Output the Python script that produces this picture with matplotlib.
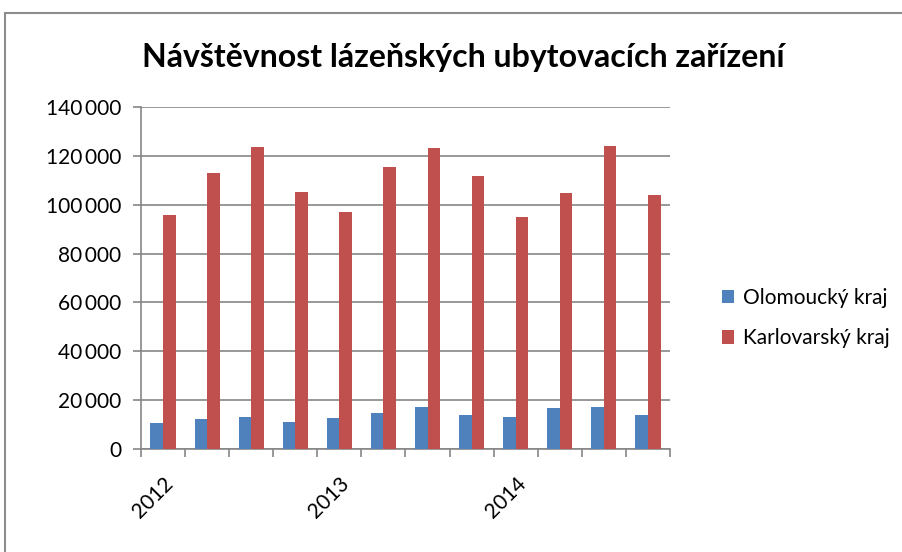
import matplotlib
matplotlib.use("Agg")
import matplotlib.pyplot as plt
from matplotlib.patches import Rectangle
import numpy as np

categories = ["2012", "", "", "", "2013", "", "", "", "2014", "", "", ""]
olomoucky = [10760, 12280, 13240, 11170, 12690, 14760, 17240, 13790, 13240, 16690, 17240, 13790]
karlovarsky = [95800, 112800, 123660, 105290, 96900, 115250, 123100, 111900, 94980, 104750, 124200, 103800]
series_names = ["Olomoucký kraj", "Karlovarský kraj"]
title = "Návštěvnost lázeňských ubytovacích zařízení"
yticks = list(range(0, 140001, 20000))

plt.rcParams['font.family'] = ['Lato', 'DejaVu Sans']

fig = plt.figure(figsize=(9.03, 5.52), dpi=100)
ax = fig.add_axes([141/903, 103/552, 529/903, 342/552])

x = np.arange(len(categories))
w = 1/3.5
ax.bar(x - w/2, olomoucky, width=w, color="#4F81BD", label=series_names[0], zorder=3)
ax.bar(x + w/2, karlovarsky, width=w, color="#C0504D", label=series_names[1], zorder=3)

ax.set_xlim(-0.5, len(categories) - 0.5)
ax.set_ylim(0, 140000)
ax.set_yticks(yticks)
ax.set_yticklabels([f"{v:,}".replace(",", "\u2009") for v in yticks], fontsize=15)
ax.yaxis.grid(True, color="#868686", linewidth=1.2, zorder=0)
ax.set_axisbelow(True)

ax.set_xticks(np.arange(-0.5, len(categories)), minor=False)
ax.set_xticklabels([])
ax.tick_params(axis='x', length=6, color="#868686", width=1.2)
ax.tick_params(axis='y', length=6, color="#868686", width=1.2, pad=8)
for i, lab in enumerate(categories):
    if lab:
        ax.text(i + 0.0, -10000, lab, rotation=45, ha='right', va='top',
                rotation_mode='anchor', fontsize=15, transform=ax.transData)

for s in ['top', 'right']:
    ax.spines[s].set_visible(False)
for s in ['left', 'bottom']:
    ax.spines[s].set_color("#868686")
    ax.spines[s].set_linewidth(1.2)

fig.text(463/903, 1 - 58/552, title, ha='center', va='center', fontsize=23, fontweight='bold')

leg = fig.legend(loc='center left', bbox_to_anchor=(703/903, 1 - 318/552), frameon=False,
                 fontsize=15, handlelength=0.6, handleheight=0.6, handletextpad=0.4,
                 labelspacing=1.0)

fig.patches.append(Rectangle((5/903, -0.05), 1.1, 0.05 + (552-13)/552, transform=fig.transFigure,
                             fill=False, edgecolor="#8c8c8c", linewidth=1.5, zorder=0))

fig.savefig("out.png", dpi=100)
